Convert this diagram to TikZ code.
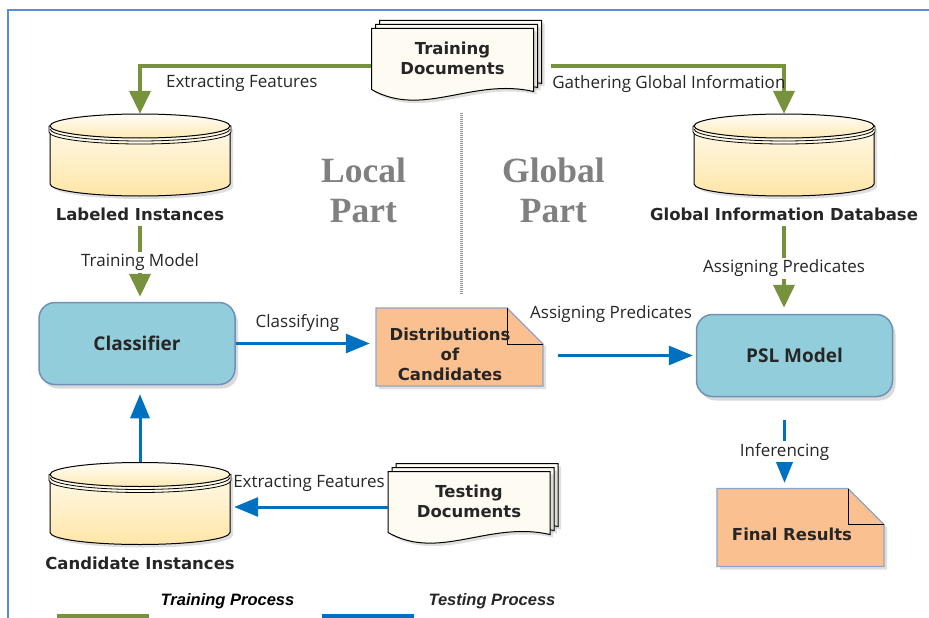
\documentclass[tikz,border=0pt]{standalone}
\usepackage{fontspec}
\usepackage{tikz}
\usetikzlibrary{arrows.meta,positioning,shadows}

\newfontfamily\boxfont{DejaVu Sans}
\newfontfamily\flowfont{Open Sans}
\newfontfamily\legendfont{Liberation Sans}
\newfontfamily\partfont{Liberation Serif}

\definecolor{trgreen}{RGB}{118,146,60}
\definecolor{tsblue}{RGB}{0,112,192}
\definecolor{modelfill}{RGB}{146,205,220}
\definecolor{modeledge}{RGB}{110,145,185}
\definecolor{notefill}{RGB}{250,192,144}
\definecolor{noteedge}{RGB}{140,165,200}
\definecolor{trayhi}{RGB}{255,249,232}
\definecolor{traylo}{RGB}{255,230,168}
\definecolor{paper}{RGB}{253,251,242}
\definecolor{frameblue}{RGB}{90,140,215}
\definecolor{ink}{RGB}{38,38,38}
\definecolor{partgray}{RGB}{128,128,128}

\tikzset{
  feed/.style={draw=trgreen, line width=4pt, -{Triangle[width=21pt,length=23pt]}},
  probe/.style={draw=tsblue, line width=3pt, -{Triangle[width=19pt,length=24pt]}},
  flowlbl/.style={font=\flowfont\fontsize{17}{20}\selectfont, text=ink, inner sep=2pt},
  onwire/.style={flowlbl, fill=white},
  softshadow/.style={drop shadow={shadow xshift=3pt,shadow yshift=-3pt,opacity=.25}},
  model/.style={rectangle, rounded corners=16pt, fill=modelfill, draw=modeledge, line width=1.5pt,
    minimum width=196pt, minimum height=82pt, font=\flowfont\bfseries\fontsize{19}{22}\selectfont,
    text=ink, drop shadow={shadow xshift=3pt,shadow yshift=-4pt,opacity=.3}},
  spot/.style 2 args={rectangle, minimum width=#1pt, minimum height=#2pt, inner sep=0pt},
  dbname/.style={font=\boxfont\bfseries\fontsize{16.5}{20}\selectfont, text=ink, inner sep=2pt},
  doctext/.style={dbname, align=center},
  partlbl/.style={font=\partfont\bfseries\fontsize{35.5}{40}\selectfont, text=partgray, align=center, inner sep=0pt},
  legendlbl/.style={font=\legendfont\bfseries\itshape\fontsize{16.5}{20}\selectfont},
  divider/.style={draw=gray!85, line width=3pt, dash pattern=on 1pt off 1pt},
  tray/.pic={
    \draw[line width=1pt, top color=trayhi, bottom color=traylo, softshadow]
      (-90,-29) -- (-90,29) arc[start angle=180, end angle=0, x radius=90, y radius=12] -- (90,-29) -- cycle;
    \draw[line width=.8pt, fill=trayhi]
      (-91,-29) -- (-91,-23) arc[start angle=180, end angle=0, x radius=91, y radius=12] -- (91,-29) -- cycle;
    \draw[line width=.8pt] (-90,-26) arc[start angle=180, end angle=0, x radius=90, y radius=12];
    \draw[line width=1pt, top color=white!70!trayhi, bottom color=traylo!80!trayhi]
      (0,-29) ellipse[x radius=90, y radius=12];
  },
  docs/.pic={
    \foreach \d in {8,4,0}
      \draw[line width=1pt, fill=paper, softshadow, shift={(\d,-\d)}]
        (-81,-30) -- (81,-30) -- (81,33) .. controls (20,19) and (-30,60) .. (-81,31) -- cycle;
  },
  note/.pic={
    \draw[line width=1.2pt, draw=noteedge, fill=notefill, softshadow]
      (-83.5,-39) -- (47.5,-39) -- (83.5,-3) -- (83.5,39) -- (-83.5,39) -- cycle;
    \draw[line width=.8pt] (47.5,-39) -- (47.5,-3) -- (83.5,-3);
  }
}

\begin{document}
\begin{tikzpicture}[x=1pt, y=-1pt]
   \useasboundingbox (0,0) rectangle (929,618);
   \draw[frameblue, line width=1.3pt] (8,618) -- (8,10) -- (929,10);

   % stores, documents, notes
   \pic at (140,155) {tray};
   \pic at (784,155) {tray};
   \pic at (140,503.5) {tray};
   \pic at (452.5,58.5) {docs};
   \pic at (469,501.5) {docs};
   \pic at (459.5,347) {note};
   \pic at (800.5,527.5) {note};

   \node[spot={180}{82}] (labeled)   at (140,155)   {};
   \node[spot={180}{82}] (globaldb)  at (784,155)   {};
   \node[spot={180}{82}] (candidate) at (140,503.5) {};
   \node[dbname, below=10pt of labeled]   (labeledname) {Labeled Instances};
   \node[dbname, below=10pt of globaldb]  (globalname)  {Global Information Database};
   \node[dbname, below=10pt of candidate] (candname)    {Candidate Instances};

   \node[spot={162}{61}, doctext] (traindocs) at (452.5,58.5) {Training\\Documents};
   \node[spot={162}{61}, doctext] (testdocs)  at (469,501.5)  {Testing\\Documents};

   \node[model] (classifier) at (137,343.5)   {Classifier};
   \node[model] (psl)        at (794.5,355.5) {PSL Model};

   \node[spot={167}{78}, label={[doctext,xshift=-9.5pt,yshift=-7pt]center:{Distributions\\of\\Candidates}}] (dist) at (459.5,347) {};
   \node[spot={167}{79}, label={[dbname,xshift=-8.5pt,yshift=-6.5pt]center:Final Results}] (final) at (800.5,527.5) {};

   \node[partlbl] (localpart)  at (363.5,190) {Local\\Part};
   \node[partlbl] (globalpart) at (553.5,190) {Global\\Part};

   \coordinate (divtop) at (461,113);
   \coordinate (divbot) at (461,295);
   \draw[divider] (divtop) -- (divbot);

   % training process
   \draw[feed] ([yshift=-8pt]traindocs.west) -| node[flowlbl, pos=.28, below=5pt] {Extracting Features} (labeled.north);
   \draw[feed, shorten <=17pt] ([yshift=-8pt]traindocs.east) -| node[flowlbl, pos=.27, below=5pt] {Gathering Global Information} (globaldb.north);
   \draw[feed, shorten <=3pt, shorten >=5pt] (labeledname.south) -- node[onwire] {Training Model} (labeledname.south |- classifier.north);
   \draw[feed, shorten <=3pt, shorten >=6pt] (globalname.south) -- node[onwire] {Assigning Predicates} (globalname.south |- psl.north);

   % testing process
   \draw[probe, shorten >=6pt] (classifier.east) -- node[flowlbl, pos=.44, above=8pt] {Classifying} (classifier.east -| dist.west);
   \draw[probe, shorten <=15pt, shorten >=3pt] (psl.west -| dist.east) -- node[flowlbl, pos=.445, above=29pt] {Assigning Predicates} (psl.west);
   \draw[probe, shorten >=4pt] ([yshift=-5.5pt]testdocs.west) -- node[flowlbl, pos=.5, above=12pt] {Extracting Features} ([yshift=-5.5pt]testdocs.west -| candidate.east);
   \draw[probe, shorten >=9pt] (candidate.north) -- (candidate.north |- classifier.south);
   \draw[probe, shorten <=23pt, shorten >=5pt] ([xshift=-10pt]psl.south) -- node[onwire, pos=.6] {Inferencing} ([xshift=-10pt]psl.south |- final.north);

   % legend
   \coordinate (greenA) at (57,616.5);
   \coordinate (greenB) at (149,616.5);
   \coordinate (blueA)  at (322,616.5);
   \coordinate (blueB)  at (414,616.5);
   \draw[trgreen, line width=5pt] (greenA) -- (greenB);
   \draw[tsblue, line width=5pt] (blueA) -- (blueB);
   \node[legendlbl, text=black] (trainkey) at (227.5,601) {Training Process};
   \node[legendlbl, text=ink]   (testkey)  at (492,601)   {Testing Process};
\end{tikzpicture}
\end{document}
